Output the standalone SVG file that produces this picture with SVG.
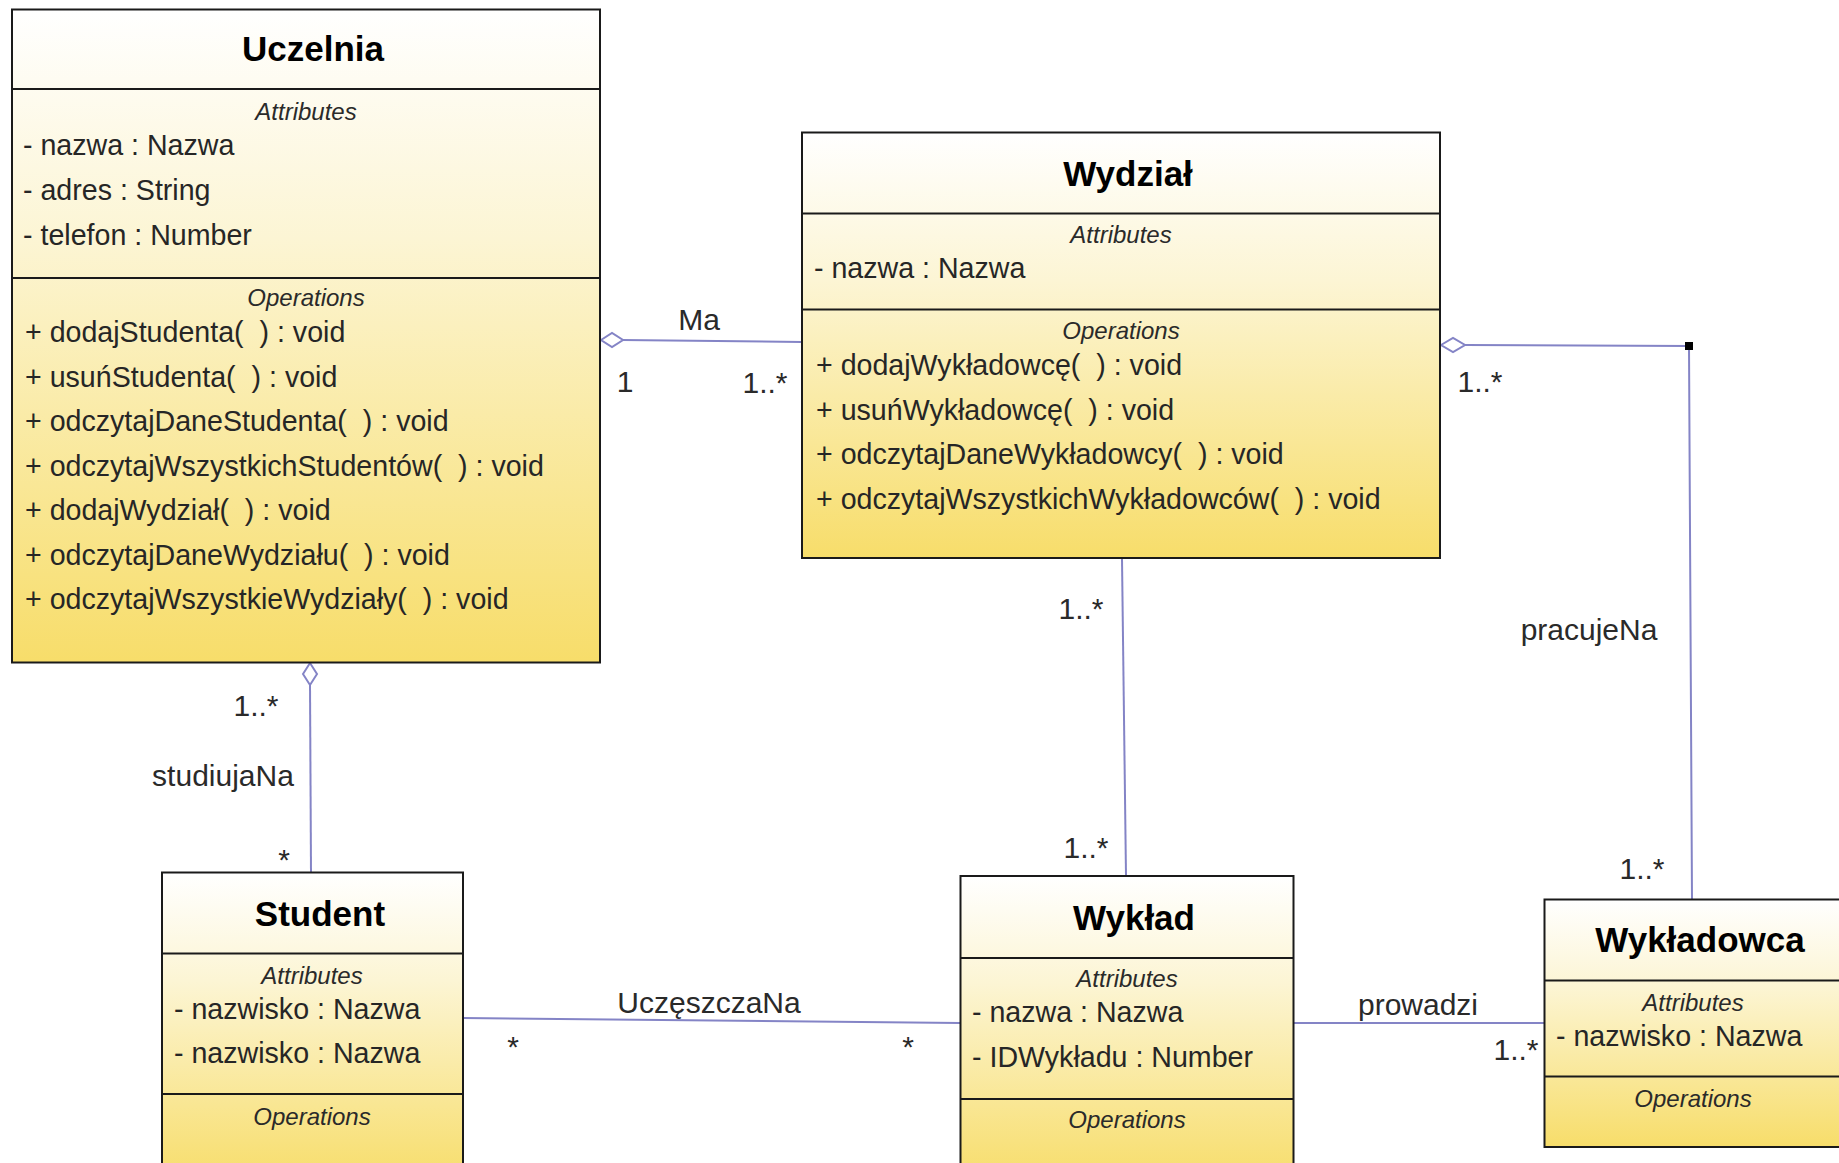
<svg xmlns="http://www.w3.org/2000/svg" width="1839" height="1163" viewBox="0 0 1839 1163">
  <defs>
    <linearGradient id="classFill" x1="0" y1="0" x2="0" y2="1">
      <stop offset="0" stop-color="#ffffff"/>
      <stop offset="0.35" stop-color="#fcf5d4"/>
      <stop offset="1" stop-color="#f7dd6a"/>
    </linearGradient>
    <style>
      text { font-family: "Liberation Sans", Arial, sans-serif; fill: #1e1e1e; white-space: pre; }
      .box { fill: url(#classFill); stroke: #1a1a1a; stroke-width: 2; }
      .sep { stroke: #1a1a1a; stroke-width: 2; }
      .title { font-size: 35px; font-weight: bold; text-anchor: middle; fill: #000; }
      .sec { font-size: 24px; font-style: italic; text-anchor: middle; fill: #2a2a2a; }
      .row { font-size: 28.6px; fill: #262626; }
      .link { stroke: #8484c6; stroke-width: 2; fill: none; }
      .agg { fill: #ffffff; stroke: #8484c6; stroke-width: 2; }
      .lbl { font-size: 30px; fill: #2a2a2a; }
      .mid { text-anchor: middle; }
    </style>
  </defs>

  <rect width="1839" height="1163" fill="#ffffff"/>

  <!-- associations -->
  <g id="connectors">
    <!-- Uczelnia aggregates Wydzial: Ma -->
    <line class="link" x1="622" y1="340" x2="802" y2="342"/>
    <polygon class="agg" points="601,340 612,333 623,340 612,347"/>
    <text class="lbl mid" x="699" y="330">Ma</text>
    <text class="lbl mid" x="625" y="392">1</text>
    <text class="lbl mid" x="765" y="393">1..*</text>

    <!-- Wydzial aggregates Wykladowca: pracujeNa -->
    <polyline class="link" points="1465,345 1689,346 1692,899"/>
    <polygon class="agg" points="1441,345 1453,338 1465,345 1453,352"/>
    <rect x="1685" y="342" width="8" height="8" fill="#000"/>
    <text class="lbl mid" x="1480" y="392">1..*</text>
    <text class="lbl mid" x="1589" y="640">pracujeNa</text>
    <text class="lbl mid" x="1642" y="879">1..*</text>

    <!-- Wydzial to Wyklad -->
    <line class="link" x1="1122" y1="559" x2="1126" y2="876"/>
    <text class="lbl mid" x="1081" y="619">1..*</text>
    <text class="lbl mid" x="1086" y="858">1..*</text>

    <!-- Uczelnia aggregates Student: studiujaNa -->
    <line class="link" x1="310" y1="685" x2="311" y2="872"/>
    <polygon class="agg" points="310,663 317,674 310,685 303,674"/>
    <text class="lbl mid" x="256" y="716">1..*</text>
    <text class="lbl mid" x="223" y="786">studiujaNa</text>
    <text class="lbl mid" x="284" y="870">*</text>

    <!-- Student to Wyklad: UczeszczaNa -->
    <line class="link" x1="463" y1="1018" x2="960" y2="1023"/>
    <text class="lbl mid" x="709" y="1013">UczęszczaNa</text>
    <text class="lbl mid" x="513" y="1057">*</text>
    <text class="lbl mid" x="908" y="1057">*</text>

    <!-- Wyklad to Wykladowca: prowadzi -->
    <line class="link" x1="1294" y1="1023" x2="1544" y2="1023"/>
    <text class="lbl mid" x="1418" y="1015">prowadzi</text>
    <text class="lbl mid" x="1516" y="1060">1..*</text>
  </g>

  <!-- classes -->
  <g id="uczelnia">
    <rect class="box" x="12" y="9.5" width="588" height="653"/>
    <line class="sep" x1="12" y1="89" x2="600" y2="89"/>
    <line class="sep" x1="12" y1="278" x2="600" y2="278"/>
    <text class="title" x="313" y="61">Uczelnia</text>
    <text class="sec" x="306" y="120">Attributes</text>
    <text class="row" x="23" y="155">- nazwa : Nazwa</text>
    <text class="row" x="23" y="200">- adres : String</text>
    <text class="row" x="23" y="245">- telefon : Number</text>
    <text class="sec" x="306" y="306">Operations</text>
    <text class="row" x="25" y="342">+ dodajStudenta(  ) : void</text>
    <text class="row" x="25" y="386.5">+ usuńStudenta(  ) : void</text>
    <text class="row" x="25" y="431">+ odczytajDaneStudenta(  ) : void</text>
    <text class="row" x="25" y="475.5">+ odczytajWszystkichStudentów(  ) : void</text>
    <text class="row" x="25" y="520">+ dodajWydział(  ) : void</text>
    <text class="row" x="25" y="564.5">+ odczytajDaneWydziału(  ) : void</text>
    <text class="row" x="25" y="609">+ odczytajWszystkieWydziały(  ) : void</text>
  </g>

  <g id="wydzial">
    <rect class="box" x="802" y="132.5" width="638" height="425.5"/>
    <line class="sep" x1="802" y1="213.5" x2="1440" y2="213.5"/>
    <line class="sep" x1="802" y1="309.5" x2="1440" y2="309.5"/>
    <text class="title" x="1128" y="186">Wydział</text>
    <text class="sec" x="1121" y="243">Attributes</text>
    <text class="row" x="814" y="278">- nazwa : Nazwa</text>
    <text class="sec" x="1121" y="339">Operations</text>
    <text class="row" x="816" y="375">+ dodajWykładowcę(  ) : void</text>
    <text class="row" x="816" y="419.5">+ usuńWykładowcę(  ) : void</text>
    <text class="row" x="816" y="464">+ odczytajDaneWykładowcy(  ) : void</text>
    <text class="row" x="816" y="508.5">+ odczytajWszystkichWykładowców(  ) : void</text>
  </g>

  <g id="student">
    <rect class="box" x="162" y="872.5" width="301" height="310"/>
    <line class="sep" x1="162" y1="953.5" x2="463" y2="953.5"/>
    <line class="sep" x1="162" y1="1094" x2="463" y2="1094"/>
    <text class="title" x="320" y="926">Student</text>
    <text class="sec" x="312" y="984">Attributes</text>
    <text class="row" x="174" y="1019">- nazwisko : Nazwa</text>
    <text class="row" x="174" y="1063">- nazwisko : Nazwa</text>
    <text class="sec" x="312" y="1125">Operations</text>
  </g>

  <g id="wyklad">
    <rect class="box" x="960.5" y="876" width="333" height="306"/>
    <line class="sep" x1="960.5" y1="958" x2="1293.5" y2="958"/>
    <line class="sep" x1="960.5" y1="1099" x2="1293.5" y2="1099"/>
    <text class="title" x="1134" y="930">Wykład</text>
    <text class="sec" x="1127" y="987">Attributes</text>
    <text class="row" x="972" y="1022">- nazwa : Nazwa</text>
    <text class="row" x="972" y="1067">- IDWykładu : Number</text>
    <text class="sec" x="1127" y="1128">Operations</text>
  </g>

  <g id="wykladowca">
    <rect class="box" x="1544.5" y="899.5" width="296" height="247.5"/>
    <line class="sep" x1="1544.5" y1="980.5" x2="1840.5" y2="980.5"/>
    <line class="sep" x1="1544.5" y1="1076.5" x2="1840.5" y2="1076.5"/>
    <text class="title" x="1700" y="952">Wykładowca</text>
    <text class="sec" x="1693" y="1011">Attributes</text>
    <text class="row" x="1556" y="1046">- nazwisko : Nazwa</text>
    <text class="sec" x="1693" y="1107">Operations</text>
  </g>
</svg>
